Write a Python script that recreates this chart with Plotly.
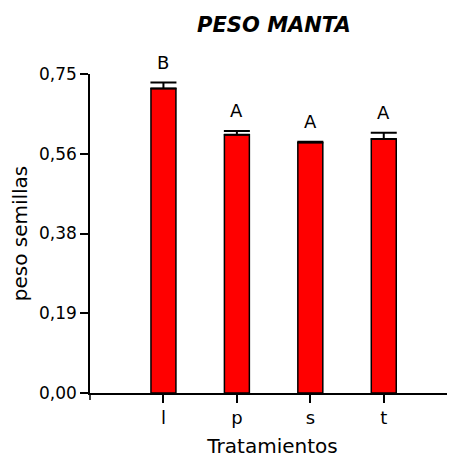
import plotly.graph_objects as go

categories = ["l", "p", "s", "t"]
means = [0.716, 0.607, 0.589, 0.597]
errors = [0.014, 0.009, 0.002, 0.015]
letters = ["B", "A", "A", "A"]
ytick_vals = [0, 0.1875, 0.375, 0.5625, 0.75]
ytick_text = ["0,00", "0,19", "0,38", "0,56", "0,75"]

FONT = "DejaVu Sans"

fig = go.Figure()
fig.add_trace(go.Bar(
    x=categories, y=means, width=0.34,
    marker=dict(color="#FF0000", line=dict(color="black", width=1.5)),
    error_y=dict(type="data", array=errors, arrayminus=[0] * len(errors),
                 symmetric=False, color="black", thickness=2, width=13),
))

for c, m, e, lt in zip(categories, means, errors, letters):
    fig.add_annotation(x=c, y=m + e, text=lt, showarrow=False,
                       yanchor="bottom", yshift=8,
                       font=dict(family=FONT, size=18, color="black"))

# y axis line extension below zero
fig.add_shape(type="line", xref="paper", yref="paper",
              x0=0, x1=0, y0=0, y1=-0.022,
              line=dict(color="black", width=1.5))

fig.update_layout(
    width=447, height=450,
    margin=dict(l=82, r=0, t=66, b=65),
    paper_bgcolor="white", plot_bgcolor="white",
    showlegend=False,
    title=dict(text="<b><i>PESO MANTA</i></b>", x=0.595, xanchor="center",
               y=0.962, yanchor="middle",
               font=dict(family=FONT, size=21, color="black")),
    xaxis=dict(range=[-1, 3.97], showline=True, linecolor="black", linewidth=1.5,
               ticks="outside", ticklen=8, tickcolor="black", tickwidth=1.5,
               showgrid=False, zeroline=False,
               tickfont=dict(family=FONT, size=18, color="black"),
               title=dict(text="Tratamientos", standoff=12,
                          font=dict(family=FONT, size=20, color="black"))),
    yaxis=dict(range=[0, 0.75], showline=True, linecolor="black", linewidth=1.5,
               ticks="outside", ticklen=8, tickcolor="black", tickwidth=1.5,
               tickvals=ytick_vals, ticktext=ytick_text,
               showgrid=False, zeroline=False,
               tickfont=dict(family=FONT, size=17, color="black"),
               title=dict(text="peso semillas", standoff=8,
                          font=dict(family=FONT, size=20, color="black"))),
)

fig.write_html("out.html")
